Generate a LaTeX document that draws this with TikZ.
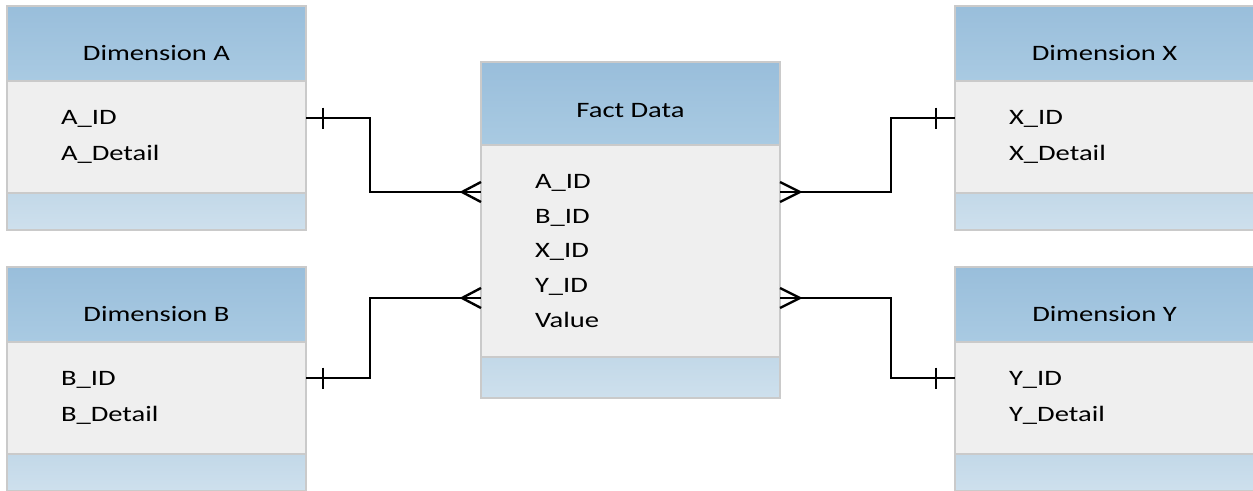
\documentclass[tikz,border=0pt]{standalone}
\usepackage{fontspec}
\setmainfont[FakeStretch=1.3]{Carlito}
\usetikzlibrary{positioning,calc}

\definecolor{headtop}{HTML}{99BEDB}
\definecolor{headbot}{HTML}{A9CAE2}
\definecolor{bodygray}{HTML}{EFEFEF}
\definecolor{foottop}{HTML}{C2D8E8}
\definecolor{footbot}{HTML}{CEE0ED}
\definecolor{edge}{HTML}{CACACA}

\tikzset{
  head/.style={draw=edge, line width=1.2pt, top color=headtop, bottom color=headbot,
    minimum width=299pt, minimum height=75pt, inner sep=0pt, outer sep=0pt, anchor=north west,
    text height=34pt, text depth=0pt, font=\fontsize{22}{27}\selectfont},
  body/.style={draw=edge, line width=1.2pt, fill=bodygray, minimum width=299pt,
    minimum height=112pt, text width=191pt, inner xsep=54pt, inner ysep=0pt, outer sep=0pt,
    align=left, font=\fontsize{22}{35.5}\selectfont},
  foot/.style={draw=edge, line width=1.2pt, top color=foottop, bottom color=footbot,
    minimum width=299pt, minimum height=37pt, inner sep=0pt, outer sep=0pt},
  link/.style={line width=2.4pt, black}
}

\begin{document}
\begin{tikzpicture}[x=1pt, y=-1pt]
    \useasboundingbox (0,0) rectangle (1253,490);

    % dimension tables
    \node[head] (hA) at (7, 6) {Dimension A};
    \node[body, below=0pt of hA] (bA) {A\_ID\\ A\_Detail};
    \node[foot, below=0pt of bA] (fA) {};

    \node[head] (hB) at (7, 267) {Dimension B};
    \node[body, below=0pt of hB] (bB) {B\_ID\\ B\_Detail};
    \node[foot, below=0pt of bB] (fB) {};

    \node[head] (hX) at (955, 6) {Dimension X};
    \node[body, below=0pt of hX] (bX) {X\_ID\\ X\_Detail};
    \node[foot, below=0pt of bX] (fX) {};

    \node[head] (hY) at (955, 267) {Dimension Y};
    \node[body, below=0pt of hY] (bY) {Y\_ID\\ Y\_Detail};
    \node[foot, below=0pt of bY] (fY) {};

    % fact table
    \node[head, minimum height=83pt, text height=27pt] (hF) at (481, 62) {Fact Data};
    \node[body, minimum height=212pt, below=0pt of hF,
          font=\fontsize{22}{34.8}\selectfont] (bF) {A\_ID\\ B\_ID\\ X\_ID\\ Y\_ID\\ Value};
    \node[foot, minimum height=41pt, below=0pt of bF] (fF) {};

    % connection points
    \coordinate (pA) at ($(bA.north east)+(0,37)$);
    \coordinate (pB) at ($(bB.north east)+(0,36)$);
    \coordinate (pX) at ($(bX.north west)+(0,37)$);
    \coordinate (pY) at ($(bY.north west)+(0,36)$);
    \coordinate (qA) at ($(bF.north west)+(0,47)$);
    \coordinate (qB) at ($(bF.north west)+(0,153)$);
    \coordinate (qX) at ($(bF.north east)+(0,47)$);
    \coordinate (qY) at ($(bF.north east)+(0,153)$);

    \draw[link] (pA) -- ++(64,0) |- (qA);
    \draw[link] (pB) -- ++(64,0) |- (qB);
    \draw[link] (qX) -- ++(111,0) |- (pX);
    \draw[link] (qY) -- ++(111,0) |- (pY);

    % one side
    \draw[link] (pA) ++(17,-10.5) -- ++(0,21);
    \draw[link] (pB) ++(17,-10.5) -- ++(0,21);
    \draw[link] (pX) ++(-19,-10.5) -- ++(0,21);
    \draw[link] (pY) ++(-19,-10.5) -- ++(0,21);

    % many side
    \draw[link] ($(qA)+(0,-10)$) -- ++(-19,10) -- ++(19,10);
    \draw[link] ($(qB)+(0,-10)$) -- ++(-19,10) -- ++(19,10);
    \draw[link] ($(qX)+(0,-10)$) -- ++(20,10) -- ++(-20,10);
    \draw[link] ($(qY)+(0,-10)$) -- ++(20,10) -- ++(-20,10);
\end{tikzpicture}
\end{document}
